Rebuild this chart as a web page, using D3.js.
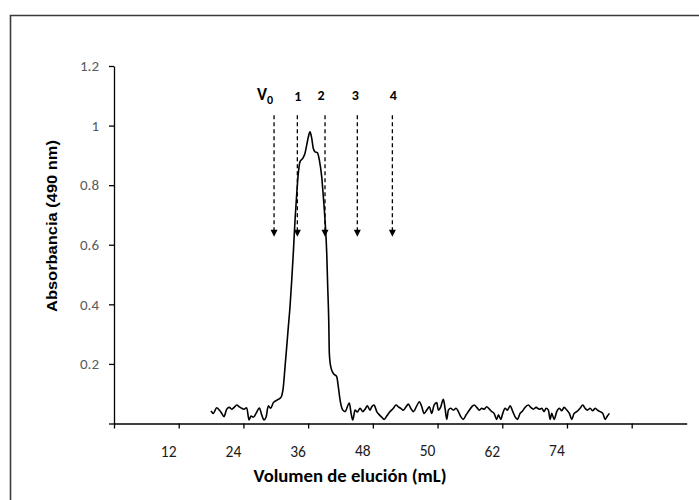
<!DOCTYPE html>
<html>
<head>
<meta charset="utf-8">
<script src="https://cdn.jsdelivr.net/npm/d3@7"></script>
<style>
  html, body { margin: 0; padding: 0; background: #fff; }
  svg { display: block; }
</style>
</head>
<body>
<script>
// ---------- data ----------
// elution volume (mL, axis units: one tick every 12 mL) and absorbance at 490 nm
const volume = [
  17.99,18.42,19.05,19.53,19.97,20.40,20.90,21.39,21.83,22.26,22.76,23.24,23.68,24.11,24.61,25.04,25.41,25.84,26.34,26.96,
  27.39,27.82,28.19,28.62,29.06,29.55,30.29,30.97,31.40,31.72,32.03,32.33,32.64,32.96,33.25,33.57,33.89,34.18,34.50,35.00,
  35.42,35.74,36.04,36.35,36.67,36.96,37.28,37.71,38.08,38.52,38.82,39.13,39.45,39.63,39.82,39.93,40.19,40.67,41.30,41.60,
  41.92,42.42,42.84,43.64,43.96,44.27,44.70,45.12,45.63,46.13,46.55,46.98,47.48,47.80,48.22,48.72,49.21,49.65,50.08,50.58,
  51.19,51.80,52.30,52.73,53.17,53.66,54.16,54.58,55.03,55.52,56.14,56.63,57.07,57.50,58.00,58.48,58.92,59.35,59.85,60.15,
  60.59,61.07,61.39,61.71,62.00,62.45,62.93,63.43,63.86,64.30,64.78,65.29,65.71,66.34,66.77,67.27,67.75,68.20,68.62,69.12,
  69.61,70.05,70.48,70.98,71.28,71.72,72.09,72.52,72.95,73.45,73.95,74.37,74.80,75.30,75.80,76.22,76.84,77.28,77.77,78.27,
  78.88,79.32,79.75,80.12,80.55,80.87,81.18,81.61,82.10,82.59,83.03,83.46,83.96,84.44,84.89,85.32,85.82,86.43,86.93,87.36,
  87.78,88.28,88.78,89.21,89.64,90.14,90.64,91.07,91.49,91.87
];
const absorbance = [
  0.042,0.034,0.053,0.045,0.034,0.023,0.048,0.054,0.048,0.054,0.062,0.056,0.051,0.048,0.053,0.012,0.025,0.021,0.034,0.052,
  0.029,0.012,0.021,0.059,0.051,0.070,0.079,0.088,0.123,0.191,0.258,0.325,0.392,0.482,0.572,0.683,0.772,0.840,0.879,0.890,
  0.907,0.935,0.962,0.979,0.957,0.923,0.912,0.909,0.884,0.828,0.761,0.683,0.571,0.459,0.347,0.236,0.191,0.168,0.157,0.123,
  0.079,0.045,0.040,0.069,0.035,0.012,0.045,0.039,0.051,0.040,0.048,0.059,0.045,0.056,0.062,0.040,0.029,0.021,0.014,0.025,
  0.040,0.051,0.062,0.056,0.051,0.045,0.056,0.065,0.051,0.040,0.059,0.073,0.056,0.034,0.045,0.056,0.034,0.062,0.070,0.045,
  0.056,0.081,0.051,0.014,0.045,0.051,0.045,0.051,0.040,0.023,0.014,0.029,0.040,0.056,0.062,0.054,0.045,0.051,0.048,0.056,
  0.048,0.040,0.034,0.014,0.029,0.014,0.034,0.051,0.045,0.059,0.040,0.023,0.014,0.034,0.043,0.054,0.062,0.054,0.048,0.054,
  0.048,0.051,0.040,0.051,0.045,0.014,0.034,0.014,0.040,0.051,0.043,0.054,0.045,0.034,0.014,0.034,0.040,0.051,0.062,0.051,
  0.045,0.051,0.043,0.051,0.045,0.040,0.034,0.014,0.025,0.034
];

const yTickValues = [0, 0.2, 0.4, 0.6, 0.8, 1, 1.2];
const xTickValues = [0, 12, 24, 36, 48, 60, 72, 84, 96];
const xTickLabels = ["12", "24", "36", "48", "50", "62", "74"];   // as printed, under ticks 2..8

// calibration markers (dashed arrows)
const markerNames  = ["V", "1", "2", "3", "4"];
const markerSub    = ["0", "", "", "", ""];
const markerVolume = [29.68, 34.0, 39.13, 45.12, 51.62];
const markerTop = 1.035, markerTip = 0.627;

const xTitle = "Volumen de elución (mL)";
const yTitle = "Absorbancia (490 nm)";

// ---------- layout ----------
const W = 699, H = 500;
const svg = d3.select("body").append("svg").attr("width", W).attr("height", H);

svg.append("rect").attr("width", W).attr("height", H).attr("fill", "#fff");
// outer frame (runs off the right and bottom edges)
svg.append("path")
  .attr("d", `M10.5,${H + 5}V15.5H${W + 5}`)
  .attr("fill", "none").attr("stroke", "#3a3a3a").attr("stroke-width", 1.6);

const x = d3.scaleLinear().domain([0, 106.2]).range([114, 686.7]);
const y = d3.scaleLinear().domain([0, 1.2]).range([423.5, 66]);

const numFont = "Carlito, Lato, 'Open Sans', sans-serif";

// y axis
const gy = svg.append("g").attr("transform", `translate(${x(0)},0)`)
  .call(d3.axisLeft(y).tickValues(yTickValues).tickSize(5).tickSizeOuter(0).tickPadding(10)
    .tickFormat(d => d === 0 ? "" : d3.format("~g")(d)));
gy.select(".domain").attr("stroke", "#000").attr("stroke-width", 1.3);
gy.selectAll(".tick line").attr("stroke", "#000").attr("stroke-width", 1.3);
gy.selectAll(".tick text").attr("fill", "#595959").style("font-family", numFont).style("font-size", "15px");

// x axis
const gx = svg.append("g").attr("transform", `translate(0,${y(0)})`)
  .call(d3.axisBottom(x).tickValues(xTickValues).tickSize(5).tickSizeOuter(0).tickFormat(""));
gx.select(".domain").attr("stroke", "#000").attr("stroke-width", 1.3);
gx.selectAll(".tick line").attr("stroke", "#000").attr("stroke-width", 1.3);

// x tick labels (printed slightly left of ticks 2..8)
svg.append("g").selectAll("text").data(xTickLabels).join("text")
  .attr("x", (d, i) => x(xTickValues[i + 1]) - 10)
  .attr("y", (d, i) => (i === 3 || i === 4 || i === 6) ? 455.5 : 457)
  .attr("text-anchor", "middle")
  .attr("fill", "#1a1a1a")
  .style("font-family", numFont).style("font-size", "15.5px")
  .text(d => d);

// curve
const pts = volume.map((v, i) => [v, absorbance[i]]);
svg.append("path")
  .datum(pts)
  .attr("fill", "none").attr("stroke", "#000").attr("stroke-width", 1.6)
  .attr("stroke-linejoin", "round")
  .attr("d", d3.line().x(d => x(d[0])).y(d => y(d[1])).curve(d3.curveMonotoneX));

// markers
const gm = svg.append("g");
markerVolume.forEach((mv, i) => {
  const cx = x(mv);
  const yTop = y(markerTop), yTip = y(markerTip);
  gm.append("line")
    .attr("x1", cx).attr("x2", cx).attr("y1", yTop).attr("y2", yTip - 6)
    .attr("stroke", "#000").attr("stroke-width", 1.3).attr("stroke-dasharray", "4,3");
  gm.append("path")
    .attr("d", `M${cx - 3.5},${yTip - 7}L${cx + 3.5},${yTip - 7}L${cx},${yTip}Z`)
    .attr("fill", "#000");
});
const labelDx = [-9, 0.5, -4, -2, 1];
markerNames.forEach((name, i) => {
  const t = gm.append("text")
    .attr("x", x(markerVolume[i]) + labelDx[i])
    .attr("y", i === 1 ? 100.5 : 99.5)
    .attr("text-anchor", "middle")
    .attr("fill", "#000")
    .style("font-family", numFont).style("font-weight", "bold")
    .style("font-size", markerSub[i] ? "17px" : "14px");
  t.append("tspan").text(name);
  if (markerSub[i]) {
    t.append("tspan").attr("dy", 4).style("font-size", "12px").text(markerSub[i]);
  }
});

// axis titles
svg.append("text")
  .attr("x", 350).attr("y", 481.5)
  .attr("text-anchor", "middle")
  .attr("fill", "#000")
  .attr("textLength", 193).attr("lengthAdjust", "spacingAndGlyphs")
  .style("font-family", numFont).style("font-weight", "bold").style("font-size", "17px")
  .text(xTitle);

svg.append("text")
  .attr("transform", "translate(57,226) rotate(-90)")
  .attr("text-anchor", "middle")
  .attr("fill", "#000")
  .attr("textLength", 172).attr("lengthAdjust", "spacingAndGlyphs")
  .style("font-family", "'Liberation Sans', Arial, sans-serif").style("font-weight", "bold").style("font-size", "15px")
  .text(yTitle);
</script>
</body>
</html>
